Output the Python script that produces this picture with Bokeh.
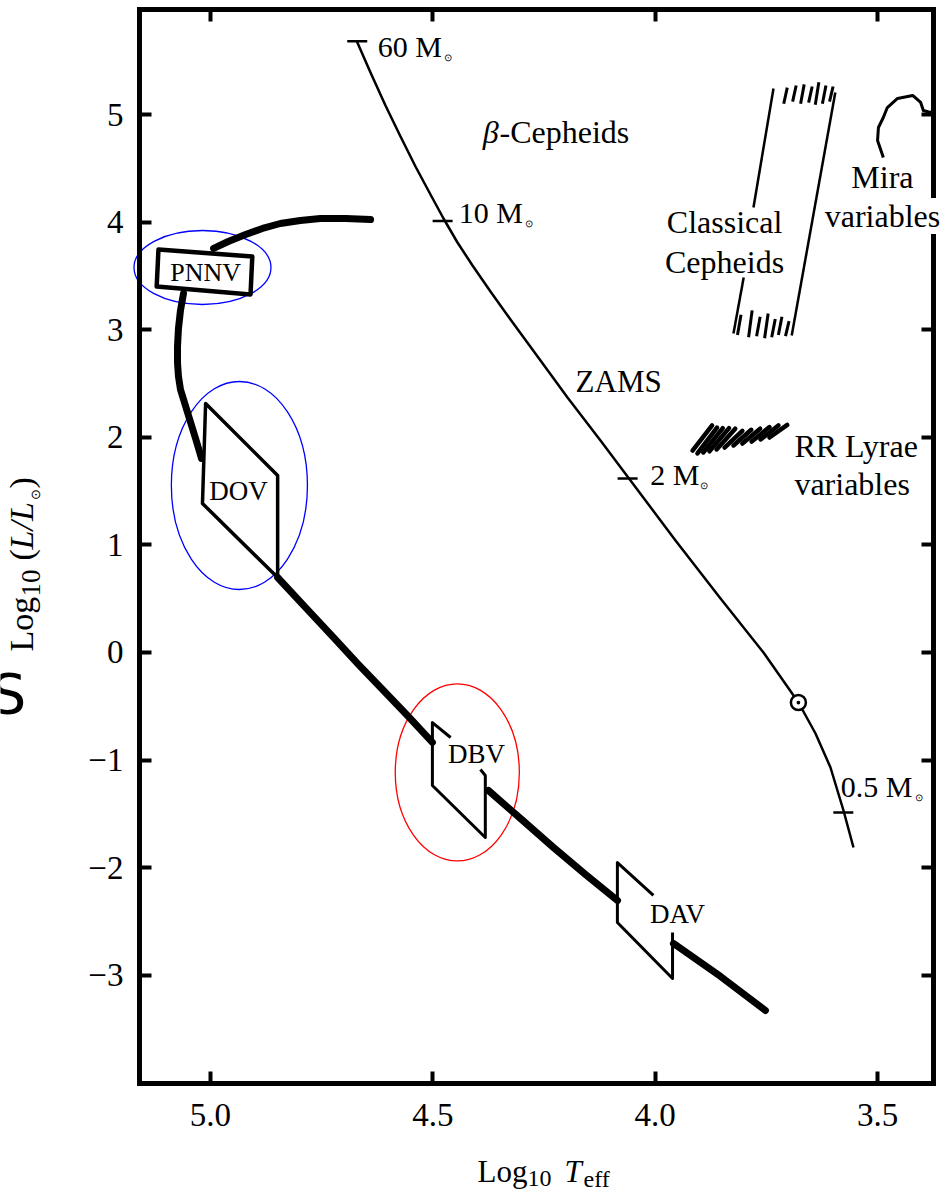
import math
from bokeh.plotting import figure
from bokeh.models import Range1d, FixedTicker, LinearAxis, Label
from bokeh.embed import file_html
from bokeh.resources import INLINE

# ---------------- data (log10 Teff, log10 L/Lsun) ----------------
x_ticks = [5.0, 4.5, 4.0, 3.5]
x_tick_labels = ["5.0", "4.5", "4.0", "3.5"]
y_ticks = [-3, -2, -1, 0, 1, 2, 3, 4, 5]
y_tick_labels = ["\u22123", "\u22122", "\u22121", "0", "1", "2", "3", "4", "5"]

# plotted box (axis extent)
box_T = [5.1597, 3.3742]
box_L = [-4.006, 5.976]

# white-dwarf cooling track, pieces between instability boxes
trk1_T = [4.640, 4.696, 4.753, 4.798, 4.843, 4.883, 4.921, 4.960, 4.993]
trk1_L = [4.024, 4.033, 4.033, 4.015, 3.987, 3.941, 3.885, 3.820, 3.755]
trk2_T = [5.0607, 5.0675, 5.0720, 5.0742, 5.0742, 5.0720, 5.0675, 5.0585, 5.0495,
          5.0405, 5.0315, 5.0202]
trk2_L = [3.3364, 3.1784, 3.0112, 2.8439, 2.6952, 2.5651, 2.4442, 2.3234, 2.2026,
          2.0818, 1.9610, 1.8030]
trk3_T = [4.849, 4.786, 4.723, 4.667, 4.611, 4.555, 4.501]
trk3_L = [0.697, 0.418, 0.139, -0.112, -0.353, -0.595, -0.836]
trk4_T = [4.3749, 4.3029, 4.2287, 4.1567, 4.0848]
trk4_L = [-1.2825, -1.5428, -1.8123, -2.0632, -2.3048]
trk5_T = [3.959, 3.853, 3.752]
trk5_L = [-2.704, -3.011, -3.327]

# instability-strip boxes
pnnv_T = [5.117, 4.906, 4.910, 5.121]
pnnv_L = [3.745, 3.680, 3.327, 3.401]
dov_T = [5.011, 4.849, 4.849, 5.018]
dov_L = [2.314, 1.645, 0.697, 1.385]
dbv_T = [4.460, 4.501, 4.501, 4.382, 4.382, 4.393]
dbv_L = [-0.790, -0.651, -1.236, -1.719, -1.143, -1.087]
dav_T = [4.004, 4.085, 4.085, 3.961, 3.961]
dav_L = [-2.258, -1.952, -2.509, -3.030, -2.602]

# zero-age main sequence
zams_T = [4.6717, 4.6402, 4.6065, 4.5727, 4.5390, 4.5053, 4.4760, 4.4446, 4.4108,
          4.3704, 4.3254, 4.2579, 4.1972, 4.1230, 4.0555, 3.9543, 3.8531, 3.7565,
          3.6778, 3.6395, 3.6058, 3.5766, 3.5541]
zams_L = [5.6877, 5.3903, 5.0836, 4.7955, 4.5167, 4.2565, 4.0335, 3.8104, 3.5967,
          3.3550, 3.0948, 2.7138, 2.3699, 1.9703, 1.5985, 1.0409, 0.5019, 0.0000,
          -0.4647, -0.7528, -1.0688, -1.4684, -1.8123]
mass_names = ["60 M", "10 M", "2 M", "0.5 M"]
mass_T = [4.670, 4.478, 4.062, 3.577]
mass_L = [5.680, 4.010, 1.617, -1.487]
sun_T = [3.678]
sun_L = [-0.465]

# classical Cepheid strip
ceph_left_a_T = [3.734, 3.779]
ceph_left_a_L = [5.242, 4.136]
ceph_left_b_T = [3.801, 3.824]
ceph_left_b_L = [3.485, 2.965]
ceph_right_T = [3.595, 3.693]
ceph_right_L = [5.204, 2.946]
ceph_top_T = [3.711, 3.691, 3.673, 3.655, 3.640, 3.624, 3.608]
ceph_top_L0 = [5.10, 5.12, 5.10, 5.11, 5.09, 5.10, 5.12]
ceph_top_L1 = [5.25, 5.27, 5.28, 5.26, 5.30, 5.27, 5.26]
ceph_bot_T = [3.815, 3.790, 3.772, 3.754, 3.738, 3.723, 3.707]
ceph_bot_L0 = [2.95, 2.93, 2.94, 2.92, 2.93, 2.95, 2.94]
ceph_bot_L1 = [3.14, 3.18, 3.12, 3.15, 3.10, 3.12, 3.08]

# RR Lyrae strip strokes
rr_T0 = [3.916, 3.905, 3.892, 3.878, 3.862, 3.844, 3.824, 3.804, 3.783, 3.763, 3.743]
rr_L0 = [1.877, 1.850, 1.859, 1.870, 1.887, 1.905, 1.924, 1.942, 1.961, 1.980, 1.998]
rr_T1 = [3.872, 3.861, 3.848, 3.834, 3.820, 3.804, 3.784, 3.764, 3.743, 3.723, 3.703]
rr_L1 = [2.110, 2.090, 2.085, 2.085, 2.080, 2.060, 2.070, 2.080, 2.095, 2.110, 2.115]

# Mira variables
mira_T = [3.487, 3.500, 3.498, 3.487, 3.478, 3.455, 3.421, 3.403, 3.397, 3.381, 3.374]
mira_L = [4.600, 4.758, 4.879, 4.972, 5.065, 5.149, 5.177, 5.112, 5.037, 5.019, 5.037]

# highlight ellipses
ell_T = [5.018, 4.935, 4.445]
ell_L = [3.578, 1.552, -1.115]
ell_w = [0.308, 0.306, 0.279]
ell_h = [0.688, 1.933, 1.645]
ell_color = ["#0000ff", "#0000ff", "#ff0000"]

# ---------------- figure ----------------
SERIF = "Liberation Serif"

p = figure(width=951, height=1195, output_backend="svg", toolbar_location=None,
           x_range=Range1d(5.4722, 3.3337), y_range=Range1d(-5.0465, 6.0595),
           x_axis_location=None, y_axis_location=None,
           min_border=0, min_border_left=0, min_border_right=0,
           min_border_top=0, min_border_bottom=0)
p.background_fill_color = "white"
p.border_fill_color = "white"
p.outline_line_color = None
p.xgrid.visible = False
p.ygrid.visible = False


def make_axis(ticks, labels, loc, bounds, show, side):
    ax = LinearAxis(fixed_location=loc, bounds=bounds,
                    ticker=FixedTicker(ticks=ticks))
    ax.axis_line_color = "black"
    ax.axis_line_width = 5
    ax.axis_line_cap = "square"
    ax.major_tick_in = 12
    ax.major_tick_out = 0
    ax.major_tick_line_width = 4
    ax.major_tick_line_color = "black"
    ax.minor_tick_line_color = None
    if show:
        ax.major_label_overrides = {t: s for t, s in zip(ticks, labels)}
        ax.major_label_text_font = SERIF
        ax.major_label_text_font_size = "33px"
        ax.major_label_text_color = "black"
    else:
        ax.major_label_overrides = {t: "" for t in ticks}
    p.add_layout(ax, side)
    return ax


bx = make_axis(x_ticks, x_tick_labels, box_L[0], (box_T[1], box_T[0]), True, "below")
bx.major_label_standoff = 20
make_axis(x_ticks, x_tick_labels, box_L[1], (box_T[1], box_T[0]), False, "above")
ly = make_axis(y_ticks, y_tick_labels, box_T[0], (box_L[0], box_L[1]), True, "left")
ly.major_label_standoff = 16
make_axis(y_ticks, y_tick_labels, box_T[1], (box_L[0], box_L[1]), False, "right")

# highlight ellipses
p.ellipse(x=ell_T, y=ell_L, width=ell_w, height=ell_h, fill_color=None,
          line_color=ell_color, line_width=1.3)

# cooling track
for tt, ll in [(trk1_T, trk1_L), (trk2_T, trk2_L), (trk3_T, trk3_L),
               (trk4_T, trk4_L), (trk5_T, trk5_L)]:
    p.line(tt, ll, line_width=7, line_color="black", line_cap="round", line_join="round")

p.patch(pnnv_T, pnnv_L, fill_color="white", line_color="black", line_width=4.5, line_join="round")
p.patch(dov_T, dov_L, fill_color=None, line_color="black", line_width=3.5, line_join="round")
p.line(dbv_T, dbv_L, line_color="black", line_width=3, line_join="round")
p.line(dav_T, dav_L, line_color="black", line_width=3, line_join="round")

# ZAMS
p.line(zams_T, zams_L, line_color="black", line_width=2.5, line_join="round")
p.scatter(mass_T, mass_L, marker="dash", size=20, line_color="black", line_width=2.5)
p.scatter(sun_T, sun_L, marker="circle_dot", size=15, line_color="black",
          fill_color="white", line_width=2.5)

# Cepheid strip
p.line(ceph_left_a_T, ceph_left_a_L, line_color="black", line_width=2.5)
p.line(ceph_left_b_T, ceph_left_b_L, line_color="black", line_width=2.5)
p.line(ceph_right_T, ceph_right_L, line_color="black", line_width=2.5)
p.segment(x0=ceph_top_T, y0=ceph_top_L0, x1=[t - 0.008 for t in ceph_top_T], y1=ceph_top_L1,
          line_color="black", line_width=3)
p.segment(x0=ceph_bot_T, y0=ceph_bot_L0, x1=[t - 0.008 for t in ceph_bot_T], y1=ceph_bot_L1,
          line_color="black", line_width=3)

# RR Lyrae
p.segment(x0=rr_T0, y0=rr_L0, x1=rr_T1, y1=rr_L1, line_color="black", line_width=4.5,
          line_cap="round")

# Mira
p.line(mira_T, mira_L, line_color="black", line_width=3, line_join="round")


# ---------------- texts ----------------
BASE_FIX = 0.36  # compensation (em) so that the glyph baseline sits on the anchor
PX_PER_T = 444.7  # horizontal pixels per unit of log Teff


def lab(x, y, text, size, align="left", italic=False, angle=0.0, font=SERIF,
        dx=0.0, dy=0.0, **kw):
    if angle == 0.0:
        dy += BASE_FIX * size
    else:
        x = x + (BASE_FIX * size + 10) / PX_PER_T
    p.add_layout(Label(x=x, y=y, text=text, text_font=font, text_font_size=f"{size}px",
                       text_align=align, text_baseline="alphabetic", angle=angle,
                       x_offset=dx, y_offset=dy,
                       text_font_style="italic" if italic else "normal",
                       text_color="black", **kw))


# mass labels with small solar symbol
mass_lab_T = [4.624, 4.442, 4.011, 3.583]
mass_lab_L = [5.529, 3.987, 1.552, -1.348]
sun_off = [66, 66, 50, 74]
for name, tx, ly_, off in zip(mass_names, mass_lab_T, mass_lab_L, sun_off):
    lab(tx, ly_, name, 30)
    lab(tx, ly_, "\u2299", 10, dx=off, dy=-4)

lab(4.388, 4.730, "\u03b2", 32, italic=True)
lab(4.350, 4.730, "-Cepheids", 32)
lab(4.179, 2.416, "ZAMS", 31)
lab(3.844, 3.894, "Classical", 32, align="center")
lab(3.844, 3.522, "Cepheids", 32, align="center")
lab(3.489, 4.312, "Mira", 32, align="center")
lab(3.489, 3.950, "variables", 32, align="center", background_fill_color="white")
lab(3.687, 1.812, "RR Lyrae", 32)
lab(3.687, 1.459, "variables", 32)
lab(5.011, 3.448, "PNNV", 26, align="center")
lab(4.937, 1.413, "DOV", 27, align="center")
lab(4.402, -1.032, "DBV", 27, align="center")
lab(3.950, -2.519, "DAV", 27, align="center")

# x axis title: Log10 Teff
lab(4.3996, -4.926, "Log", 31)
lab(4.2872, -4.972, "10", 24)
lab(4.2040, -4.926, "T", 31, italic=True)
lab(4.1612, -4.972, "eff", 24)

# y axis title: Log10 (L/Lsun), rotated
ang = math.pi / 2
lab(5.3755, 0.010, "Log", 34, angle=ang)
lab(5.3598, 0.521, "10", 27, angle=ang)
lab(5.3755, 0.855, "(", 34, angle=ang)
lab(5.3755, 0.958, "L/L", 34, angle=ang, italic=True)
lab(5.3598, 1.413, "\u2299", 13, angle=ang)
lab(5.3755, 1.525, ")", 34, angle=ang)

# stray cropped letter at the left edge
lab(5.414, -0.567, "S", 56, align="right", font="DejaVu Sans")

open("out.html", "w").write(file_html(p, INLINE))
